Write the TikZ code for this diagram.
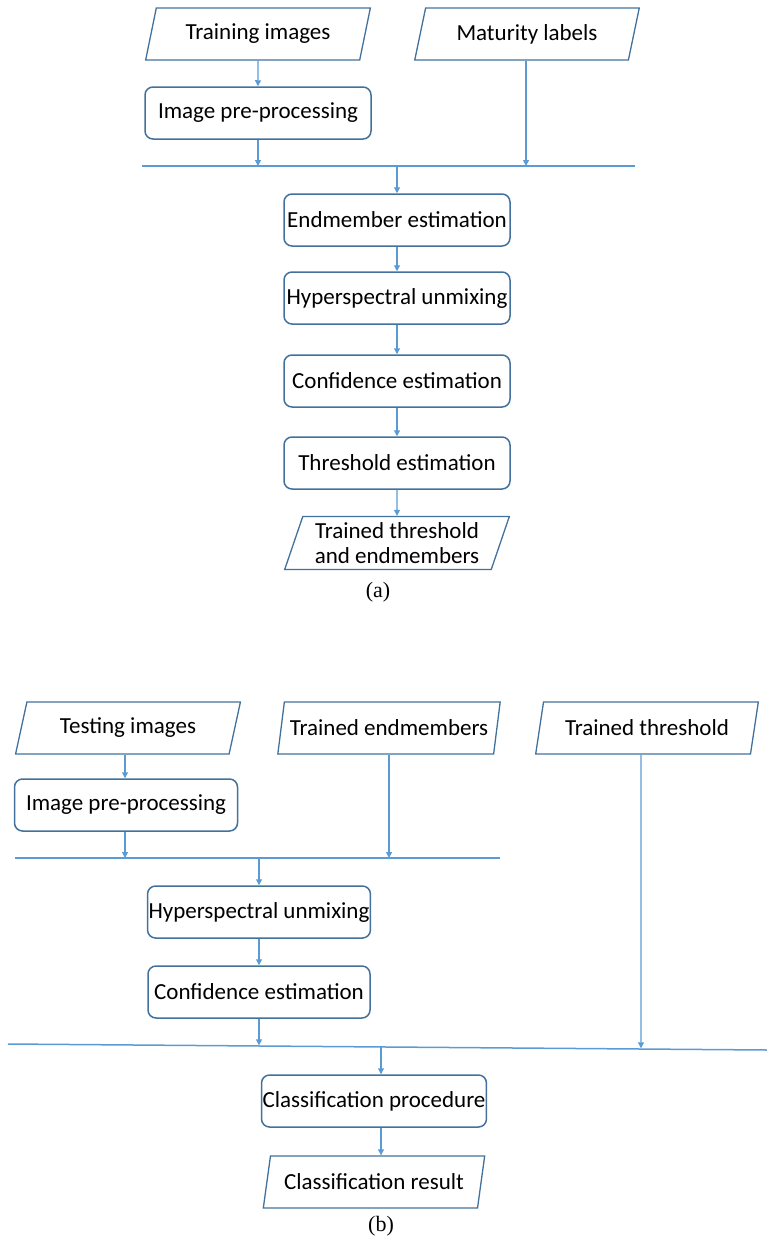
\documentclass[tikz,border=0pt]{standalone}
\usepackage{fontspec}
\setmainfont{Carlito}
\newfontfamily\capfont{Liberation Serif}
\usetikzlibrary{shapes.geometric,arrows.meta,calc}
\definecolor{boxc}{RGB}{65,113,156}
\definecolor{linec}{RGB}{91,155,213}
\begin{document}
\begin{tikzpicture}[x=1pt,y=-1pt,
  procbox/.style={draw=boxc, line width=1.5pt, rounded corners=8pt, minimum width=226pt, minimum height=52pt, inner sep=1pt, font=\fontsize{23}{26}\selectfont, text=black},
  iobox/.style={draw=boxc, line width=1.3pt, trapezium, trapezium left angle=69, trapezium right angle=111, trapezium stretches=true, minimum width=225pt, minimum height=52pt, inner sep=0pt, align=center, font=\fontsize{23}{25}\selectfont, text=black},
  arr/.style={draw=linec, line width=1.1pt, -{Triangle[width=6pt,length=6pt]}},
  bus/.style={draw=linec, line width=1.5pt},
  captxt/.style={font=\capfont\fontsize{22}{24}\selectfont, text=black}
]
\useasboundingbox (0,0) rectangle (767,1247);

% ---------------- (a) ----------------
\node[iobox] (ti) at (258,34) {Training images};
\node[iobox] (ml) at (527,34) {Maturity labels};
\node[procbox] (pp) at (258,113) {Image pre-processing};
\coordinate (busAl) at (142,166);
\coordinate (busAr) at (635,166);
\draw[bus] (busAl) -- (busAr);
\node[procbox] (ee) at (397,220) {Endmember estimation};
\node[procbox] (hu) at (397,298) {Hyperspectral unmixing};
\node[procbox] (ce) at (397,381) {Confidence estimation};
\node[procbox] (te) at (397,463) {Threshold estimation};
\node[iobox, minimum height=53pt] (tr) at (397,543) {Trained threshold\\and endmembers};
\node[captxt] (capa) at (378,592) {(a)};

\draw[arr] (ti.south) -- (pp.north);
\draw[arr] (pp.south) -- (pp.south |- busAl);
\draw[arr] ([xshift=-1pt]ml.south) -- ([xshift=-1pt]ml.south |- busAl);
\draw[arr] (ee.north |- busAl) -- (ee.north);
\draw[arr] (ee.south) -- (hu.north);
\draw[arr] (hu.south) -- (ce.north);
\draw[arr] (ce.south) -- (te.north);
\draw[arr] (te.south) -- (tr.north);

% ---------------- (b) ----------------
\node[iobox] (tsi) at (128,728) {Testing images};
\node[iobox, minimum width=223pt] (tem) at (389,728) {Trained endmembers};
\node[iobox, minimum width=223pt] (tth) at (647,728) {Trained threshold};
\node[procbox, minimum width=223pt] (pp2) at (126,805) {Image pre-processing};
\coordinate (busBl) at (15,858);
\coordinate (busBr) at (500,858);
\draw[bus] (busBl) -- (busBr);
\node[procbox, minimum width=222pt] (hu2) at (259,912) {Hyperspectral unmixing};
\node[procbox, minimum width=222pt] (ce2) at (259,992) {Confidence estimation};
\coordinate (busCl) at (8,1044);
\coordinate (busCr) at (767,1050);
\draw[bus] (busCl) -- (busCr);
\coordinate (jc) at (259,1045.4);
\coordinate (jt) at (641,1048.3);
\coordinate (jo) at (381,1047.3);
\node[procbox, minimum width=223pt] (cp) at (374,1101) {Classification procedure};
\node[iobox, minimum width=222pt] (cr) at (374,1182) {Classification result};
\node[captxt] (capb) at (381,1226) {(b)};

\draw[arr] ([xshift=-3pt]tsi.south) -- ([xshift=-3pt]tsi.south |- pp2.north);
\draw[arr] ([xshift=-1pt]pp2.south) -- ([xshift=-1pt]pp2.south |- busBl);
\draw[arr] (tem.south) -- (tem.south |- busBl);
\draw[arr] (hu2.north |- busBl) -- (hu2.north);
\draw[arr] (hu2.south) -- (ce2.north);
\draw[arr] (ce2.south) -- (jc);
\draw[arr] ([xshift=-6pt]tth.south) -- (jt);
\draw[arr] (jo) -- (jo |- cp.north);
\draw[arr] (jo |- cp.south) -- (jo |- cr.north);
\end{tikzpicture}
\end{document}
